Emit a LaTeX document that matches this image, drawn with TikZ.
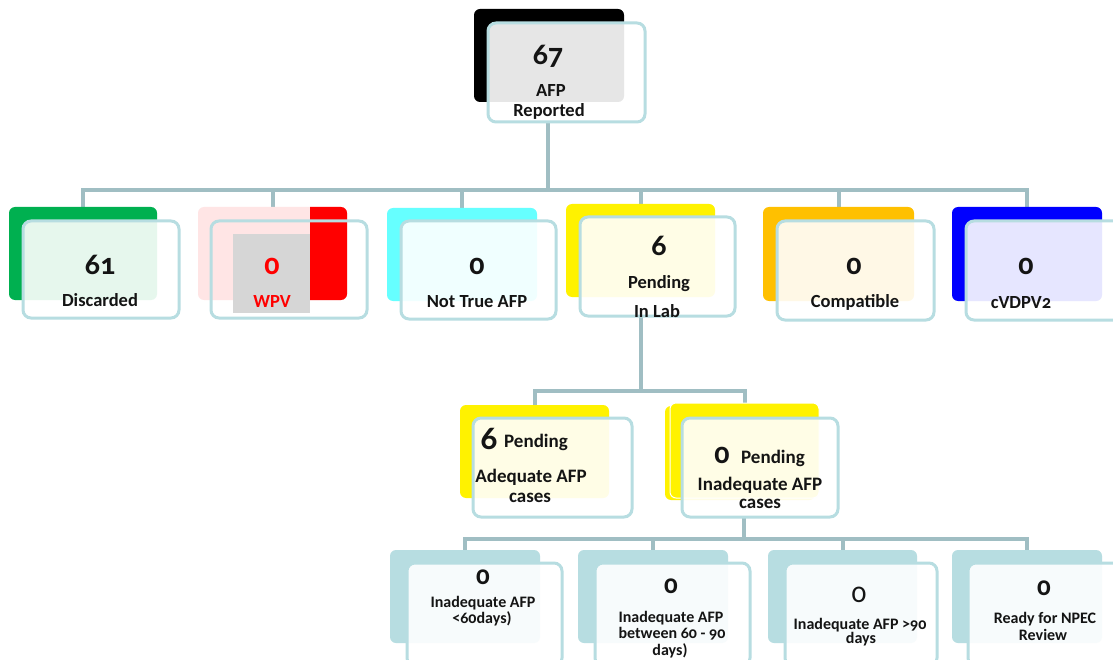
\documentclass[tikz,border=0pt]{standalone}
\usepackage{fontspec}
\setmainfont{Carlito}[Numbers=OldStyle]
\usetikzlibrary{fit,calc}
\pgfdeclarelayer{base}
\pgfdeclarelayer{bg}
\pgfsetlayers{base,bg,main}
\definecolor{outl}{RGB}{183,221,225}
\definecolor{connc}{RGB}{160,190,195}
\definecolor{cgreen}{RGB}{0,176,80}
\definecolor{cpink}{RGB}{255,229,229}
\definecolor{ccyan}{RGB}{102,255,255}
\definecolor{corange}{RGB}{255,192,0}
\definecolor{cgrayb}{RGB}{214,214,214}
\definecolor{ctext}{RGB}{20,20,20}
\begin{document}
\begin{tikzpicture}[x=1pt,y=-1pt,
  back/.style={rounded corners=6pt, inner sep=0pt, outer sep=0pt, draw=none},
  front/.style={draw=outl, line width=3pt, rounded corners=8pt, fill=white, fill opacity=0.9, inner sep=0pt, outer sep=0pt},
  frontnf/.style={draw=outl, line width=3pt, rounded corners=8pt, inner sep=0pt, outer sep=0pt},
  conn/.style={draw=connc, line width=4pt},
  num/.style={font=\fontsize{30}{30}\selectfont\bfseries, anchor=base, inner sep=0pt, text=ctext},
  bignum/.style={font=\fontsize{33}{33}\selectfont\bfseries, anchor=base, inner sep=0pt, text=ctext},
  smnum/.style={font=\fontsize{27}{27}\selectfont\bfseries, anchor=base, inner sep=0pt, text=ctext},
  lab/.style={font=\fontsize{18.5}{20}\selectfont\bfseries, anchor=base, inner sep=0pt, text=ctext},
  lab3/.style={font=\fontsize{19}{20}\selectfont\bfseries, anchor=base, inner sep=0pt, text=ctext},
  lab4/.style={font=\fontsize{16}{17}\selectfont\bfseries, anchor=base, inner sep=0pt, text=ctext}]
\useasboundingbox (0,0) rectangle (1113,660);
\begin{pgfonlayer}{base}
\fill[white] (0,0) rectangle (1113,660);
\end{pgfonlayer}

% ---------- back boxes ----------
\node[back, fill=black, fit={(474,9) (624,102)}] (topB) {};
\node[back, fill=cgreen, fit={(9,207) (157,300)}] (discB) {};
\node[back, fill=cpink, fit={(198,207) (347,300)}] (wpvB) {};
\begin{scope}
  \clip (310,200) rectangle (352,310);
  \fill[red, rounded corners=6pt] (198,207) rectangle (347,300);
\end{scope}
\node[back, fill=ccyan, fit={(387,208) (537,301)}] (ntaB) {};
\node[back, fill=yellow, fit={(566,204) (715,297)}] (pendB) {};
\node[back, fill=corange, fit={(763,207) (914,301)}] (compB) {};
\node[back, fill=blue, fit={(952,207) (1102,301)}] (cvdB) {};
\node[back, fill=yellow, fit={(460,405) (609,498)}] (adeqB) {};
\node[back, fill=yellow, fit={(665,406) (815,500)}] (inadB2) {};
\node[back, fill=yellow, draw=white, line width=1pt, fit={(670,403) (819,498)}] (inadB) {};
\node[back, fill=outl, fit={(390,550) (540,643)}] (r1B) {};
\node[back, fill=outl, fit={(578,550) (728,643)}] (r2B) {};
\node[back, fill=outl, fit={(768,550) (917,643)}] (r3B) {};
\node[back, fill=outl, fit={(952,550) (1102,643)}] (r4B) {};

% ---------- front boxes ----------
\node[front, fit={(488,23) (645,122)}] (top) {};
\node[front, fit={(23,221) (179,318)}] (disc) {};
\node[frontnf, fit={(211,221) (367,318)}] (wpv) {};
\node[fill=cgrayb, inner sep=0pt, fit={(233,234) (310,313)}] (wpvG) {};
\node[front, fit={(401,221) (556,319)}] (nta) {};
\node[front, fit={(580,217) (735,316)}] (pend) {};
\node[front, fit={(777,221) (934,320)}] (comp) {};
\node[front, fit={(966,221) (1124,320)}] (cvd) {};
\node[front, fit={(473,418) (632,517)}] (adeq) {};
\node[front, fit={(682,418) (838,517)}] (inad) {};
\node[front, fit={(407,563) (562,666)}] (r1) {};
\node[front, fit={(595,563) (750,666)}] (r2) {};
\node[front, fit={(785,563) (937,666)}] (r3) {};
\node[front, fit={(968,563) (1124,666)}] (r4) {};

% ---------- connectors ----------
\begin{pgfonlayer}{bg}
  \coordinate (bus) at (548,190);
  \draw[conn] (top.south -| bus) -- (bus);
  \draw[conn] (discB.north) -- (discB.north |- bus) -| (cvdB.north);
  \foreach \n in {wpvB,ntaB,pendB,compB}
    \draw[conn] (\n.north) -- (\n.north |- bus);
  \coordinate (bus2) at (641,391);
  \draw[conn] (pend.south -| bus2) -- (bus2);
  \draw[conn] (adeqB.north) -- (adeqB.north |- bus2) -| (inadB.north);
  \coordinate (bus3) at (744,539);
  \draw[conn] (inad.south -| bus3) -- (bus3);
  \draw[conn] (r1B.north) -- (r1B.north |- bus3) -| (r4B.north);
  \foreach \n in {r2B,r3B}
    \draw[conn] (\n.north) -- (\n.north |- bus3);
\end{pgfonlayer}

% ---------- texts ----------
\node[num] (t0a) at (548,65) {67};
\node[lab] (t0b) at (551,97) {AFP};
\node[lab] (t0c) at (549,117) {Reported};

\node[num] (t1a) at (100,275) {61};
\node[lab] (t1b) at (100,306) {Discarded};
\node[num, text=red] (t2a) at (272,274) {0};
\node[lab, text=red] (t2b) at (272,307) {WPV};
\node[num] (t3a) at (477,274) {0};
\node[lab] (t3b) at (477,307) {Not True AFP};
\node[num] (t4a) at (659,255) {6};
\node[lab] (t4b) at (659,288) {Pending};
\node[lab] (t4c) at (657,317) {In Lab};
\node[num] (t5a) at (854,274) {0};
\node[lab] (t5b) at (855,307) {Compatible};
\node[num] (t6a) at (1026,274) {0};
\node[lab] (t6b) at (1021,308) {cVDPV2};

\node[bignum] (t7a) at (489,449) {6};
\node[lab3] (t7b) at (536,447) {Pending};
\node[lab3] (t7c) at (531,482) {Adequate AFP};
\node[lab3] (t7d) at (530,502) {cases};
\node[num] (t8a) at (722,463) {0};
\node[lab3] (t8b) at (773,463) {Pending};
\node[lab3] (t8c) at (760,490) {Inadequate AFP};
\node[lab3] (t8d) at (760,508) {cases};

\node[smnum] (t9a) at (483,584) {0};
\node[lab4] (t9b) at (483,607) {Inadequate AFP};
\node[lab4] (t9c) at (482,623) {<60days)};
\node[smnum] (t10a) at (671,593) {0};
\node[lab4] (t10b) at (671,622) {Inadequate AFP};
\node[lab4] (t10c) at (672,638) {between 60 - 90};
\node[lab4] (t10d) at (670,655) {days)};
\node[smnum, font=\fontsize{29}{29}\selectfont] (t11a) at (859,602) {0};
\node[lab4] (t11b) at (860,629) {Inadequate AFP >90};
\node[lab4] (t11c) at (861,643) {days};
\node[smnum] (t12a) at (1044,595) {0};
\node[lab4] (t12b) at (1045,623) {Ready for NPEC};
\node[lab4] (t12c) at (1043,640) {Review};
\end{tikzpicture}
\end{document}
